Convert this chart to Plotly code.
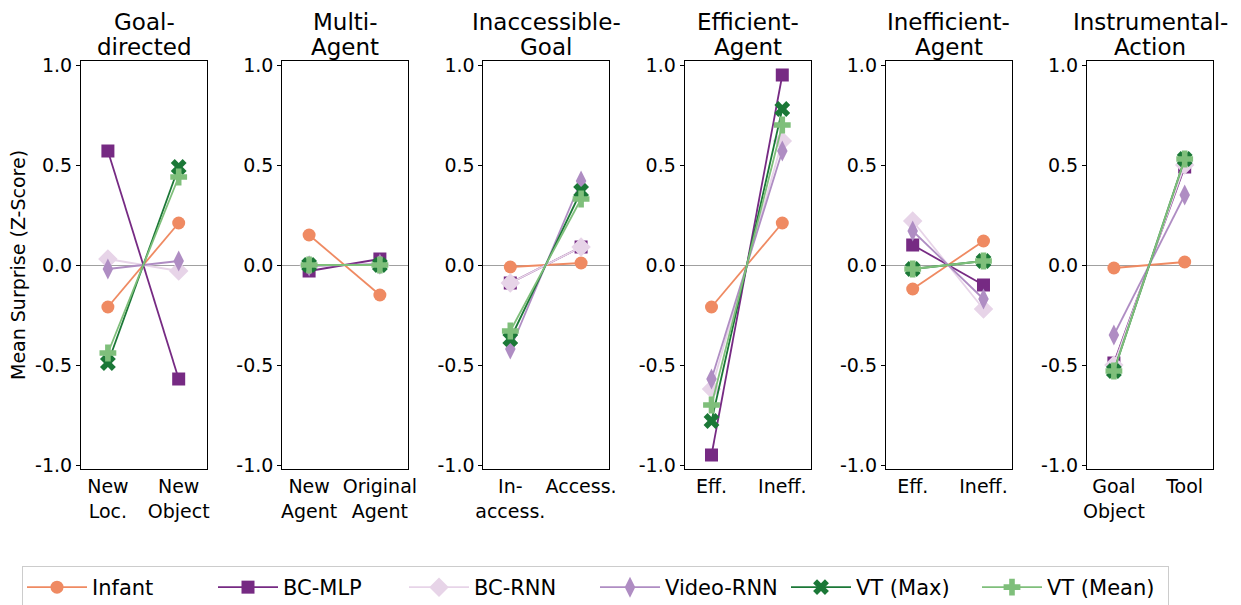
import plotly.graph_objects as go
from plotly.subplots import make_subplots

# ---- data ----
panel_titles = [["Goal-", "directed"], ["Multi-", "Agent"], ["Inaccessible-", "Goal"],
                ["Efficient-", "Agent"], ["Inefficient-", "Agent"], ["Instrumental-", "Action"]]
panel_ticks = [["New<br>Loc.", "New<br>Object"],
               ["New<br>Agent", "Original<br>Agent"],
               ["In-<br>access.", "Access."],
               ["Eff.", "Ineff."],
               ["Eff.", "Ineff."],
               ["Goal<br>Object", "Tool"]]
models = ["Infant", "BC-MLP", "BC-RNN", "Video-RNN", "VT (Max)", "VT (Mean)"]

infant    = [[-0.21, 0.21], [0.15, -0.15], [-0.01, 0.01], [-0.21, 0.21], [-0.12, 0.12], [-0.015, 0.015]]
bc_mlp    = [[0.57, -0.57], [-0.03, 0.03], [-0.09, 0.09], [-0.95, 0.95], [0.10, -0.10], [-0.49, 0.49]]
bc_rnn    = [[0.03, -0.03], [0.0, 0.0], [-0.09, 0.09], [-0.62, 0.62], [0.22, -0.22], [-0.50, 0.50]]
video_rnn = [[-0.02, 0.02], [-0.005, 0.005], [-0.42, 0.42], [-0.57, 0.57], [0.17, -0.17], [-0.35, 0.35]]
vt_max    = [[-0.49, 0.49], [0.0, 0.0], [-0.37, 0.37], [-0.78, 0.78], [-0.02, 0.02], [-0.53, 0.53]]
vt_mean   = [[-0.44, 0.44], [0.0, 0.0], [-0.33, 0.33], [-0.70, 0.70], [-0.02, 0.02], [-0.53, 0.53]]
series = [infant, bc_mlp, bc_rnn, video_rnn, vt_max, vt_mean]

y_ticks = [1.0, 0.5, 0.0, -0.5, -1.0]
y_ticktext = ["1.0", "0.5", "0.0", "-0.5", "-1.0"]

# ---- style ----
colors = ["#ef8a62", "#762a83", "#e7d4e8", "#af8dc3", "#1b7837", "#7fbf7b"]
symbols = ["circle", "square", "diamond", "diamond-tall", "x", "cross"]
sizes = [13, 13, 15, 15, 14, 14]

OFF = 8  # page body margin
W, H = 1241 - OFF, 605 - OFF
FONT = "DejaVu Sans"

def px_x(v):
    return (v - OFF) / W

def px_y(v):
    return 1 - (v - OFF) / H

fig = make_subplots(rows=1, cols=6)

for p in range(6):
    for m in range(6):
        fig.add_trace(go.Scatter(
            x=[0, 1], y=series[m][p], mode="lines+markers",
            name=models[m], legendgroup=models[m], showlegend=(p == 0),
            line=dict(color=colors[m], width=1.8),
            marker=dict(symbol=symbols[m], size=sizes[m], color=colors[m],
                        line=dict(width=0)),
        ), row=1, col=p + 1)

left0, pw, step = 81, 126, 201.2
top, bottom = 61, 469
layout_updates = {}
for p in range(6):
    l = left0 + p * step
    sfx = "" if p == 0 else str(p + 1)
    layout_updates["xaxis" + sfx] = dict(
        domain=[px_x(l), px_x(l + pw)], range=[-0.38, 1.40],
        tickmode="array", tickvals=[0, 1], ticktext=panel_ticks[p], tickangle=0,
        showline=True, mirror=True, linecolor="black", linewidth=1,
        ticks="", showgrid=False, zeroline=False, automargin=False,
        tickfont=dict(family=FONT, size=19, color="black"), fixedrange=True)
    layout_updates["yaxis" + sfx] = dict(
        domain=[px_y(bottom), px_y(top)], range=[-1.02, 1.02],
        tickmode="array", tickvals=y_ticks, ticktext=y_ticktext,
        showline=True, mirror=True, linecolor="black", linewidth=1,
        ticks="outside", ticklen=4, tickcolor="black", showgrid=False,
        zeroline=True, zerolinecolor="#a0a0a0", zerolinewidth=1, automargin=False,
        tickfont=dict(family=FONT, size=19, color="black"), fixedrange=True)
    for k, ypix in enumerate([22, 47]):
        fig.add_annotation(x=px_x(l + pw / 2), y=px_y(ypix), xref="paper", yref="paper",
                           text=panel_titles[p][k], showarrow=False, xanchor="center",
                           yanchor="middle",
                           font=dict(family=FONT, size=23, color="black"))
fig.update_layout(**layout_updates)

fig.add_annotation(x=px_x(18), y=px_y(265), xref="paper", yref="paper",
                   text="Mean Surprise (Z-Score)", textangle=-90, showarrow=False,
                   xanchor="center", yanchor="middle",
                   font=dict(family=FONT, size=19, color="black"))

fig.update_layout(
    width=W, height=H, margin=dict(l=0, r=0, t=0, b=0, autoexpand=False),
    plot_bgcolor="white", paper_bgcolor="white",
    font=dict(family=FONT, size=19, color="black"),
    legend=dict(orientation="h", x=px_x(22), y=px_y(566), xanchor="left", yanchor="top",
                bordercolor="#cccccc", borderwidth=1, bgcolor="white",
                font=dict(family=FONT, size=21, color="black"),
                entrywidth=116, entrywidthmode="pixels",
                itemwidth=60),
)

fig.write_html("out.html")
